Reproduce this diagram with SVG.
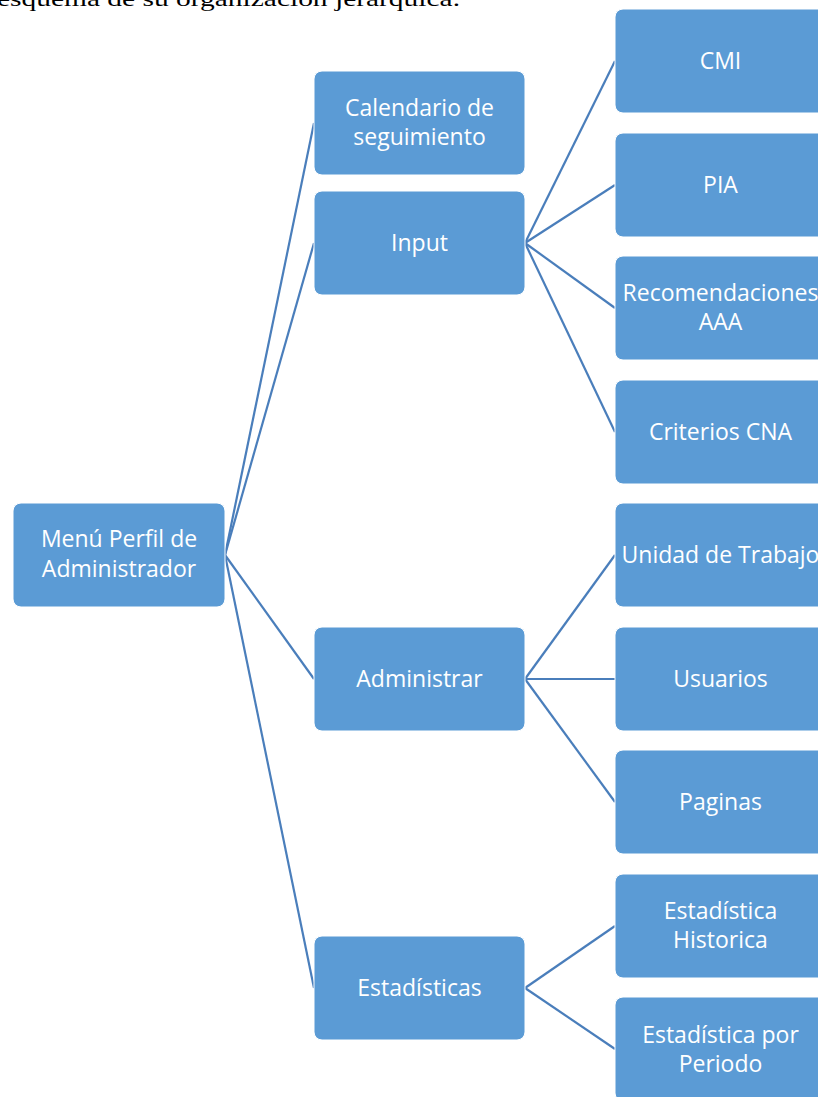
<svg xmlns="http://www.w3.org/2000/svg" width="818" height="1097" viewBox="0 0 818 1097">
<style>
.box{fill:#5B9BD5;stroke:#FFFFFF;stroke-width:1}
.t{font-family:"Open Sans","Liberation Sans",sans-serif;font-size:23px;fill:#FFFFFF;text-anchor:middle}
.c{stroke:#4A7EBB;stroke-width:2.2;fill:none}
.cap{font-family:"Liberation Serif",serif;font-size:21px;fill:#000000}
</style>
<rect width="818" height="1097" fill="#FFFFFF"/>
<text class="cap" x="-3" y="6" textLength="463" lengthAdjust="spacingAndGlyphs">esquema de su organización jerárquica.</text>
<g id="connectors">
<line class="c" x1="225" y1="555" x2="314" y2="123"/>
<line class="c" x1="225" y1="555" x2="314" y2="243"/>
<line class="c" x1="225" y1="555" x2="314" y2="679"/>
<line class="c" x1="225" y1="555" x2="314" y2="988"/>
<line class="c" x1="525" y1="243" x2="615" y2="61"/>
<line class="c" x1="525" y1="243" x2="615" y2="185"/>
<line class="c" x1="525" y1="243" x2="615" y2="308"/>
<line class="c" x1="525" y1="243" x2="615" y2="432"/>
<line class="c" x1="525" y1="679" x2="615" y2="555"/>
<line class="c" x1="525" y1="679" x2="615" y2="679"/>
<line class="c" x1="525" y1="679" x2="615" y2="802"/>
<line class="c" x1="525" y1="988" x2="615" y2="926"/>
<line class="c" x1="525" y1="988" x2="615" y2="1049"/>
</g>
<g id="root"><rect class="box" x="13" y="503" width="212" height="104" rx="8"/><text class="t" x="119" y="547">Menú Perfil de</text><text class="t" x="119" y="577">Administrador</text></g>
<g id="calendario"><rect class="box" x="314" y="71" width="211" height="104" rx="8"/><text class="t" x="419.500" y="116">Calendario de</text><text class="t" x="419.500" y="145">seguimiento</text></g>
<g id="input"><rect class="box" x="314" y="191" width="211" height="104" rx="8"/><text class="t" x="419.500" y="251">Input</text></g>
<g id="administrar"><rect class="box" x="314" y="627" width="211" height="104" rx="8"/><text class="t" x="419.500" y="687">Administrar</text></g>
<g id="estadisticas"><rect class="box" x="314" y="936" width="211" height="104" rx="8"/><text class="t" x="419.500" y="996">Estadísticas</text></g>
<g id="cmi"><rect class="box" x="615" y="9" width="211" height="104" rx="8"/><text class="t" x="720.500" y="69">CMI</text></g>
<g id="pia"><rect class="box" x="615" y="133" width="211" height="104" rx="8"/><text class="t" x="720.500" y="193">PIA</text></g>
<g id="recomendaciones"><rect class="box" x="615" y="256" width="211" height="104" rx="8"/><text class="t" x="720.500" y="301">Recomendaciones</text><text class="t" x="720.500" y="330">AAA</text></g>
<g id="criterios"><rect class="box" x="615" y="380" width="211" height="104" rx="8"/><text class="t" x="720.500" y="440">Criterios CNA</text></g>
<g id="unidad"><rect class="box" x="615" y="503" width="211" height="104" rx="8"/><text class="t" x="720.500" y="563">Unidad de Trabajo</text></g>
<g id="usuarios"><rect class="box" x="615" y="627" width="211" height="104" rx="8"/><text class="t" x="720.500" y="687">Usuarios</text></g>
<g id="paginas"><rect class="box" x="615" y="750" width="211" height="104" rx="8"/><text class="t" x="720.500" y="810">Paginas</text></g>
<g id="historica"><rect class="box" x="615" y="874" width="211" height="104" rx="8"/><text class="t" x="720.500" y="919">Estadística</text><text class="t" x="720.500" y="948">Historica</text></g>
<g id="periodo"><rect class="box" x="615" y="997" width="211" height="104" rx="8"/><text class="t" x="720.500" y="1043">Estadística por</text><text class="t" x="720.500" y="1072">Periodo</text></g>
</svg>
